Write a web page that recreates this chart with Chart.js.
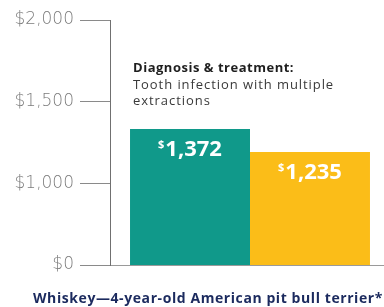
<!DOCTYPE html>
<html>
<head>
<meta charset="utf-8">
<script src="https://cdn.jsdelivr.net/npm/chart.js@4/dist/chart.umd.min.js"></script>
<style>
html,body{margin:0;padding:0;background:#fff;overflow:hidden;width:384px;height:307px;}
#wrap{width:390px;height:307px;}
</style>
</head>
<body>
<div id="wrap"><canvas id="c" width="390" height="307"></canvas></div>
<script>
// ---- data ----
const categories = ['Whiskey'];
const seriesNames = ['Vet bill', 'Reimbursed'];
const seriesValues = [1372, 1235];
const seriesColors = ['#10998a', '#fbbd18'];
// axis labels are evenly spaced in the original (broken scale)
const tickLabels = ['$0', '$1,000', '$1,500', '$2,000'];
const noteTitle = 'Diagnosis & treatment:';
const noteLines = ['Tooth infection with multiple', 'extractions'];
const chartTitle = 'Whiskey\u20144-year-old American pit bull terrier*';

const fmt = v => v.toLocaleString('en-US');

function spacedText(ctx, text, x, y, targetWidth) {
  ctx.letterSpacing = '0px';
  const w0 = ctx.measureText(text).width;
  const ls = Math.max(0, (targetWidth - w0) / text.length);
  ctx.letterSpacing = ls.toFixed(2) + 'px';
  ctx.fillText(text, x, y);
  ctx.letterSpacing = '0px';
}

const valueLabels = {
  id: 'valueLabels',
  afterDatasetsDraw(chart) {
    const ctx = chart.ctx;
    ctx.save();
    ctx.fillStyle = '#ffffff';
    ctx.textBaseline = 'alphabetic';
    ctx.textAlign = 'left';
    chart.data.datasets.forEach((ds, i) => {
      const el = chart.getDatasetMeta(i).data[0];
      const digits = fmt(ds.data[0]);
      ctx.font = 'bold 22px "Open Sans"';
      const w1 = ctx.measureText(digits).width;
      ctx.font = 'bold 11px "Open Sans"';
      const w2 = ctx.measureText('$').width;
      const start = el.x - (w1 + w2 + 1) / 2;
      const base = el.y + 27;
      ctx.fillText('$', start, base - 8);
      ctx.font = 'bold 22px "Open Sans"';
      ctx.fillText(digits, start + w2 + 1, base);
    });
    ctx.restore();
  }
};

const notes = {
  id: 'notes',
  afterDatasetsDraw(chart) {
    const ctx = chart.ctx;
    const el = chart.getDatasetMeta(0).data[0];
    const x = el.x - el.width / 2 + 3;
    const top = chart.chartArea.top;
    ctx.save();
    ctx.textAlign = 'left';
    ctx.textBaseline = 'alphabetic';
    ctx.fillStyle = '#1e1e1e';
    ctx.font = 'bold 13px "Open Sans"';
    spacedText(ctx, noteTitle, x, top + 52, 161);
    ctx.font = '13px "Open Sans"';
    ctx.fillStyle = '#3a3a3a';
    const r = ctx.measureText(noteLines[1]).width / ctx.measureText(noteLines[0]).width;
    spacedText(ctx, noteLines[0], x, top + 69, 201);
    spacedText(ctx, noteLines[1], x, top + 85, 201 * r);
    // bottom title
    ctx.fillStyle = '#1b2a5e';
    ctx.font = 'bold 14px "Open Sans"';
    spacedText(ctx, chartTitle, 33, 303, 350);
    ctx.restore();
  }
};

new Chart(document.getElementById('c'), {
  type: 'bar',
  data: {
    labels: categories,
    datasets: seriesNames.map((n, i) => ({
      label: n,
      data: [seriesValues[i]],
      backgroundColor: seriesColors[i],
      yAxisID: 'yBar',
      barPercentage: 1,
      categoryPercentage: 0.857
    }))
  },
  options: {
    responsive: false,
    devicePixelRatio: 1,
    animation: false,
    layout: { padding: { left: 6, right: 0, top: 20, bottom: 42 } },
    plugins: {
      legend: { display: false },
      tooltip: { enabled: false },
      title: { display: false }
    },
    scales: {
      x: {
        grid: { display: false },
        ticks: { display: false },
        border: { display: true, color: '#9a9a9a', width: 1 },
        afterFit: s => { s.height = 0; }
      },
      y: {
        type: 'category',
        position: 'left',
        labels: tickLabels,
        reverse: true,
        offset: false,
        afterFit: s => { s.width = 104; },
        ticks: {
          color: '#7c7c7c',
          font: { family: "'DejaVu Sans ExtraLight', 'DejaVu Sans'", size: 17, weight: 200 },
          padding: 6
        },
        grid: { drawOnChartArea: false, drawTicks: true, tickLength: 30, color: '#8a8a8a', offset: false },
        border: { display: true, color: '#707070', width: 1 }
      },
      yBar: {
        display: false,
        min: 563,
        max: 2020
      }
    }
  },
  plugins: [valueLabels, notes]
});
</script>
</body>
</html>
